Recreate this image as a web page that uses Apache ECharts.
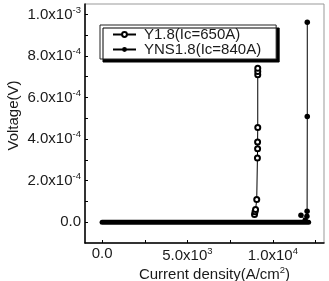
<!DOCTYPE html>
<html>
<head>
<meta charset="utf-8">
<script src="https://cdn.jsdelivr.net/npm/echarts@6/dist/echarts.min.js"></script>
<style>
	html, body { margin: 0; padding: 0; background: #fff; }
	#chart { width: 329px; height: 281px; }
</style>
</head>
<body>
<div id="chart"></div>
<script>
// values
const y18Name = "Y1.8(Ic=650A)";
const yns18Name = "YNS1.8(Ic=840A)";
const y18X = [8930, 8960, 8990, 9060, 9100, 9110, 9110, 9120, 9120, 9120, 9120];
const y18V = [0.37e-4, 0.5e-4, 0.61e-4, 1.09e-4, 3.09e-4, 3.54e-4, 3.86e-4, 4.56e-4, 7.09e-4, 7.25e-4, 7.41e-4];
const yns18X = [11650, 11900, 12000, 12010, 12020, 12020];
const yns18V = [0.34e-4, 0.1e-4, 0.29e-4, 0.53e-4, 5.09e-4, 9.62e-4];
// the solid black band at zero current (many overlapping points)
const bandX = [0, 12100];
const bandV = [0, 0];
const xTicks = [0, 2500, 5000, 7500, 10000, 12500];
const xLabels = [0, 5000, 10000];
const yTicks = [0, 1e-4, 2e-4, 3e-4, 4e-4, 5e-4, 6e-4, 7e-4, 8e-4, 9e-4, 1e-3];
const yLabels = [0, 2e-4, 4e-4, 6e-4, 8e-4, 1e-3];

const font = "Liberation Sans, Arial, sans-serif";
const ink = "#1a1a1a";

function sciLabel(v) {
	if (Math.abs(v) < 1e-12) return "{a|0.0}";
	let e = Math.floor(Math.log10(Math.abs(v)) + 1e-9);
	let m = v / Math.pow(10, e);
	return "{a|" + m.toFixed(1) + "x10}{s|" + e + "}";
}

const rich = {
	a: { fontSize: 15, fontFamily: font, color: ink },
	s: { fontSize: 9.5, fontFamily: font, color: ink, padding: [0, 0, 9, 0] }
};

function pairs(xs, vs) {
	return xs.map((x, i) => [x, vs[i]]);
}

let myChart = echarts.init(document.getElementById("chart"), null, { renderer: "canvas" });
let option = {
	animation: false,
	backgroundColor: "#fff",
	grid: {
		left: 85, top: 4, right: 5, bottom: 38,
		outerBoundsMode: "none",
		containLabel: false,
		show: true, borderColor: "#999", borderWidth: 1
	},
	legend: {
		data: [y18Name, yns18Name],
		orient: "vertical",
		left: 100, top: 25,
		padding: [2, 15, 2, 12],
		itemGap: 0,
		itemWidth: 23,
		itemHeight: 6,
		backgroundColor: "#fff",
		borderColor: "#222",
		borderWidth: 1,
		borderRadius: 0,
		shadowColor: "#000",
		shadowBlur: 0,
		shadowOffsetX: 3,
		shadowOffsetY: 3,
		textStyle: { fontSize: 15, fontFamily: font, color: ink, padding: [0, 0, 0, 3] }
	},
	xAxis: {
		type: "value",
		min: -1000, max: 13000,
		name: "{a|Current density(A/cm}{s|2}{a|)}",
		nameLocation: "middle",
		nameGap: 22,
		nameMoveOverlap: false,
		nameTextStyle: { rich: rich, padding: [0, 0, 0, 20] },
		axisLine: { onZero: false, lineStyle: { color: "#000", width: 1.5 } },
		axisTick: { inside: true, length: 3, customValues: xTicks, lineStyle: { color: "#000" } },
		axisLabel: { customValues: xLabels, formatter: sciLabel, rich: rich, margin: 3 },
		splitLine: { show: false }
	},
	yAxis: {
		type: "value",
		min: -1e-4, max: 1.05e-3,
		name: "Voltage(V)",
		nameLocation: "middle",
		nameGap: 64,
		nameMoveOverlap: false,
		nameTextStyle: { fontSize: 15, fontFamily: font, color: ink, padding: [0, 0, 0, 16] },
		axisLine: { onZero: false, lineStyle: { color: "#000", width: 1.5 } },
		axisTick: { inside: true, length: 3, customValues: yTicks, lineStyle: { color: "#000" } },
		axisLabel: { customValues: yLabels, formatter: sciLabel, rich: rich, margin: 4 },
		splitLine: { show: false }
	},
	series: [
		{
			name: "band",
			type: "line",
			data: pairs(bandX, bandV),
			symbol: "none",
			lineStyle: { color: "#000", width: 5, cap: "round" },
			silent: true,
			z: 1
		},
		{
			name: y18Name,
			type: "line",
			data: pairs(y18X, y18V),
			symbol: "emptyCircle",
			symbolSize: 5,
			itemStyle: { color: "#000", borderWidth: 1 },
			lineStyle: { color: "#000", width: 1 },
			z: 3
		},
		{
			name: yns18Name,
			type: "line",
			data: pairs(yns18X, yns18V),
			symbol: "circle",
			symbolSize: 5.5,
			itemStyle: { color: "#000" },
			lineStyle: { color: "#000", width: 1 },
			z: 4
		}
	]
};
myChart.setOption(option);
</script>
</body>
</html>
